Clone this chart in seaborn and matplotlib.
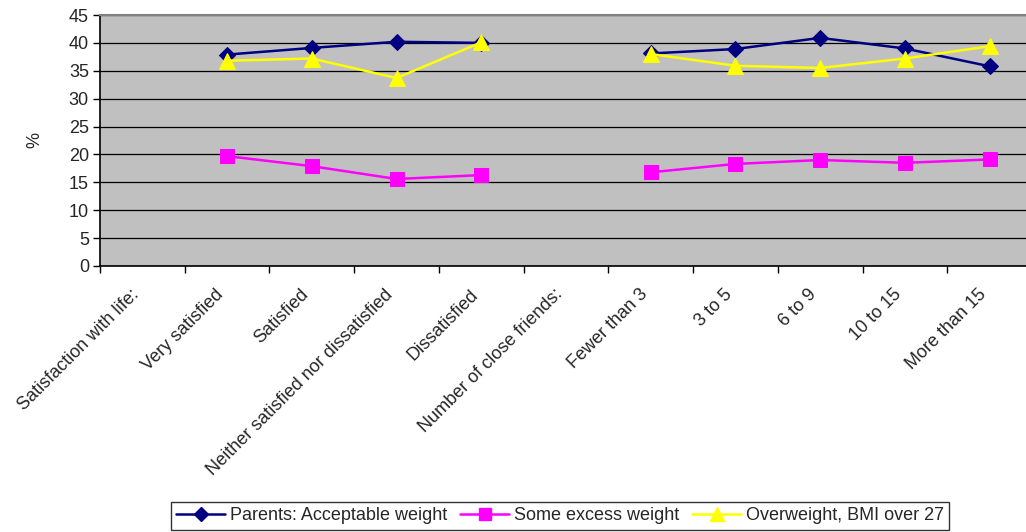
import numpy as np
import pandas as pd
import matplotlib
matplotlib.use('Agg')
import matplotlib.pyplot as plt
import seaborn as sns
from matplotlib.ticker import FixedLocator

categories = ['Satisfaction with life:', 'Very satisfied', 'Satisfied',
              'Neither satisfied nor dissatisfied', 'Dissatisfied',
              'Number of close friends:', 'Fewer than 3', '3 to 5', '6 to 9',
              '10 to 15', 'More than 15']
# header rows have no values (nan)
acceptable = [np.nan, 37.9, 39.1, 40.2, 40.0, np.nan, 38.1, 38.9, 40.9, 39.0, 35.8]
some_excess = [np.nan, 19.7, 17.9, 15.6, 16.3, np.nan, 16.8, 18.3, 19.0, 18.5, 19.1]
overweight = [np.nan, 36.8, 37.2, 33.7, 40.1, np.nan, 38.0, 35.9, 35.5, 37.2, 39.4]

series_names = ['Parents: Acceptable weight', 'Some excess weight', 'Overweight, BMI over 27']
colors = ['#000080', '#FF00FF', '#FFFF00']
markers = ['D', 's', '^']
msizes = [8, 10, 11]

rows = []
for name, vals in zip(series_names, [acceptable, some_excess, overweight]):
    group = 0
    for i, v in enumerate(vals):
        if np.isnan(v):
            group += 1
            continue
        rows.append({'pos': i, 'value': v, 'series': name, 'group': group})
df = pd.DataFrame(rows)

sns.set_style('white')
plt.rcParams['font.family'] = ['Liberation Sans', 'DejaVu Sans']

fig = plt.figure(figsize=(10.26, 5.32), dpi=100)
ax = fig.add_axes([100 / 1026, 1 - 266 / 532, 932 / 1026, 251 / 532])
ax.set_facecolor('#C0C0C0')

handles = []
for name, c, m, ms in zip(series_names, colors, markers, msizes):
    sub = df[df['series'] == name]
    sns.lineplot(data=sub, x='pos', y='value', units='group', estimator=None,
                 color=c, marker=m, markersize=ms, markeredgecolor=c,
                 linewidth=1.8, ax=ax, legend=False)
    handles.append(plt.Line2D([], [], color=c, marker=m, markersize=ms * 0.9,
                              markeredgecolor=c, linewidth=1.8))

ax.set_xlim(-0.5, len(categories) - 0.5)
ax.set_ylim(0, 45)
ax.set_yticks(range(0, 46, 5))
ax.yaxis.grid(True, color='black', linewidth=0.9)
ax.set_axisbelow(True)

ax.set_xticks(range(len(categories)))
ax.set_xticklabels(categories, rotation=45, ha='right', va='bottom',
                   rotation_mode='anchor', fontsize=13)
ax.xaxis.set_minor_locator(FixedLocator(np.arange(-0.5, len(categories), 1)))
ax.tick_params(axis='x', which='major', length=0, pad=23)
ax.tick_params(axis='x', which='minor', length=5, width=1, color='black', direction='out', bottom=True)
ax.tick_params(axis='y', length=5, width=1, color='black', direction='out', left=True,
               labelsize=13, pad=3)

for s in ['left', 'bottom']:
    ax.spines[s].set_color('black')
    ax.spines[s].set_linewidth(1.2)
ax.spines['top'].set_color('#808080')
ax.spines['top'].set_linewidth(1.5)
ax.spines['right'].set_visible(False)

ax.set_xlabel('')
ax.set_ylabel('%', fontsize=13, labelpad=18)

leg = fig.legend(handles, series_names, loc='center', ncol=3,
                 bbox_to_anchor=(560 / 1026, 1 - 516 / 532), frameon=True,
                 fancybox=False, edgecolor='black', handlelength=2.7,
                 handletextpad=0.25, columnspacing=0.75, borderpad=0.3,
                 prop={'size': 13})
leg.get_frame().set_linewidth(1.0)

fig.savefig('out.png', dpi=100)
